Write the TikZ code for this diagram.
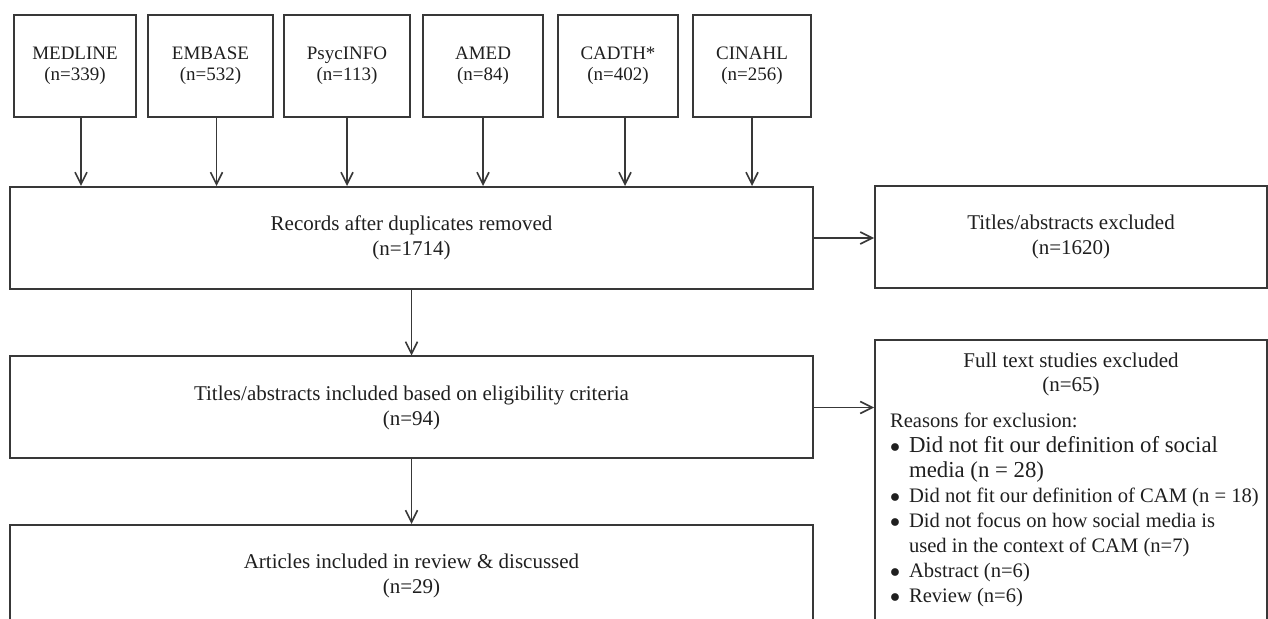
\documentclass[tikz,border=0pt]{standalone}
\usepackage{fontspec}
\setmainfont{Liberation Serif}
\usetikzlibrary{arrows.meta,positioning}
\definecolor{linegray}{HTML}{383838}
\definecolor{textgray}{HTML}{1F1F1F}
\begin{document}
\begin{tikzpicture}[x=0.5pt, y=-0.5pt,
          every node/.style = {draw=linegray, line width=1pt, text=textgray, align=center, inner sep=0pt},
          srcbox/.style={minimum width=61pt, minimum height=51pt, font=\fontsize{9.5}{10.5}\selectfont},
          stagebox/.style={minimum width=401.5pt, minimum height=51pt, font=\fontsize{10.5}{12.5}\selectfont},
          exclbox/.style={minimum width=196pt, minimum height=51pt, font=\fontsize{10.5}{12.5}\selectfont},
          plain/.style={draw=none},
          arr/.style={draw=linegray, line width=0.8pt, -{Straight Barb[length=6pt, width=6pt]}}]
          \useasboundingbox (0,0) rectangle (1268,619);
          \clip (0,0) rectangle (1268,619);
          % databases
          \node[srcbox] (medline) at (75,66) {MEDLINE\\(n=339)};
          \node[srcbox, minimum width=62.5pt] (embase) at (210.5,66) {EMBASE\\(n=532)};
          \node[srcbox, minimum width=63pt] (psycinfo) at (347,66) {PsycINFO\\(n=113)};
          \node[srcbox, minimum width=60pt] (amed) at (483,66) {AMED\\(n=84)};
          \node[srcbox, minimum width=60pt] (cadth) at (618,66) {CADTH*\\(n=402)};
          \node[srcbox, minimum width=59pt] (cinahl) at (752,66) {CINAHL\\(n=256)};
          % screening stages
          \node[stagebox] (records) at (411.5,238) {Records after duplicates removed\\(n=1714)};
          \node[exclbox] (titexcl) at (1071,237) {Titles/abstracts excluded\\(n=1620)};
          \node[stagebox] (titincl) at (411.5,407.5) {Titles/abstracts included based on eligibility criteria\\(n=94)};
          \node[stagebox, anchor=north] (articles) at (411.5,524) {Articles included in review \& discussed\\(n=29)};
          \node[exclbox, minimum height=150pt, anchor=north] (ftexcl) at (1071,339) {};
          \node[plain, anchor=north, font=\fontsize{10.5}{12}\selectfont] (ftehead) at (1071,352) {Full text studies excluded\\(n=65)};
          \node[plain, anchor=north west, align=left, font=\fontsize{10.3}{12.5}\selectfont] (ftelist) at (889,409) {%
            \begin{tabular}{@{}l@{\hspace{4.5pt}}l@{}}
              \multicolumn{2}{@{}l@{}}{Reasons for exclusion:}\\
              $\bullet$ & {\fontsize{11.4}{12.5}\selectfont Did not fit our definition of social}\\
                        & {\fontsize{11.4}{12.5}\selectfont media (n = 28)}\\
              $\bullet$ & Did not fit our definition of CAM (n = 18)\\
              $\bullet$ & Did not focus on how social media is\\
                        & used in the context of CAM (n=7)\\
              $\bullet$ & Abstract (n=6)\\
              $\bullet$ & Review (n=6)
            \end{tabular}};
          % connectors
          \draw[arr] ([xshift=3pt]medline.south) -- ([xshift=3pt]medline.south |- records.north);
          \draw[arr] ([xshift=3pt]embase.south) -- ([xshift=3pt]embase.south |- records.north);
          \draw[arr] (psycinfo.south) -- (psycinfo.south |- records.north);
          \draw[arr] (amed.south) -- (amed.south |- records.north);
          \draw[arr] ([xshift=3.5pt]cadth.south) -- ([xshift=3.5pt]cadth.south |- records.north);
          \draw[arr] (cinahl.south) -- (cinahl.south |- records.north);
          \draw[arr] (records.east) -- (records.east -| titexcl.west);
          \draw[arr] (records.south) -- (titincl.north);
          \draw[arr] (titincl.east) -- (titincl.east -| ftexcl.west);
          \draw[arr] (titincl.south) -- (articles.north);
\end{tikzpicture}
\end{document}
